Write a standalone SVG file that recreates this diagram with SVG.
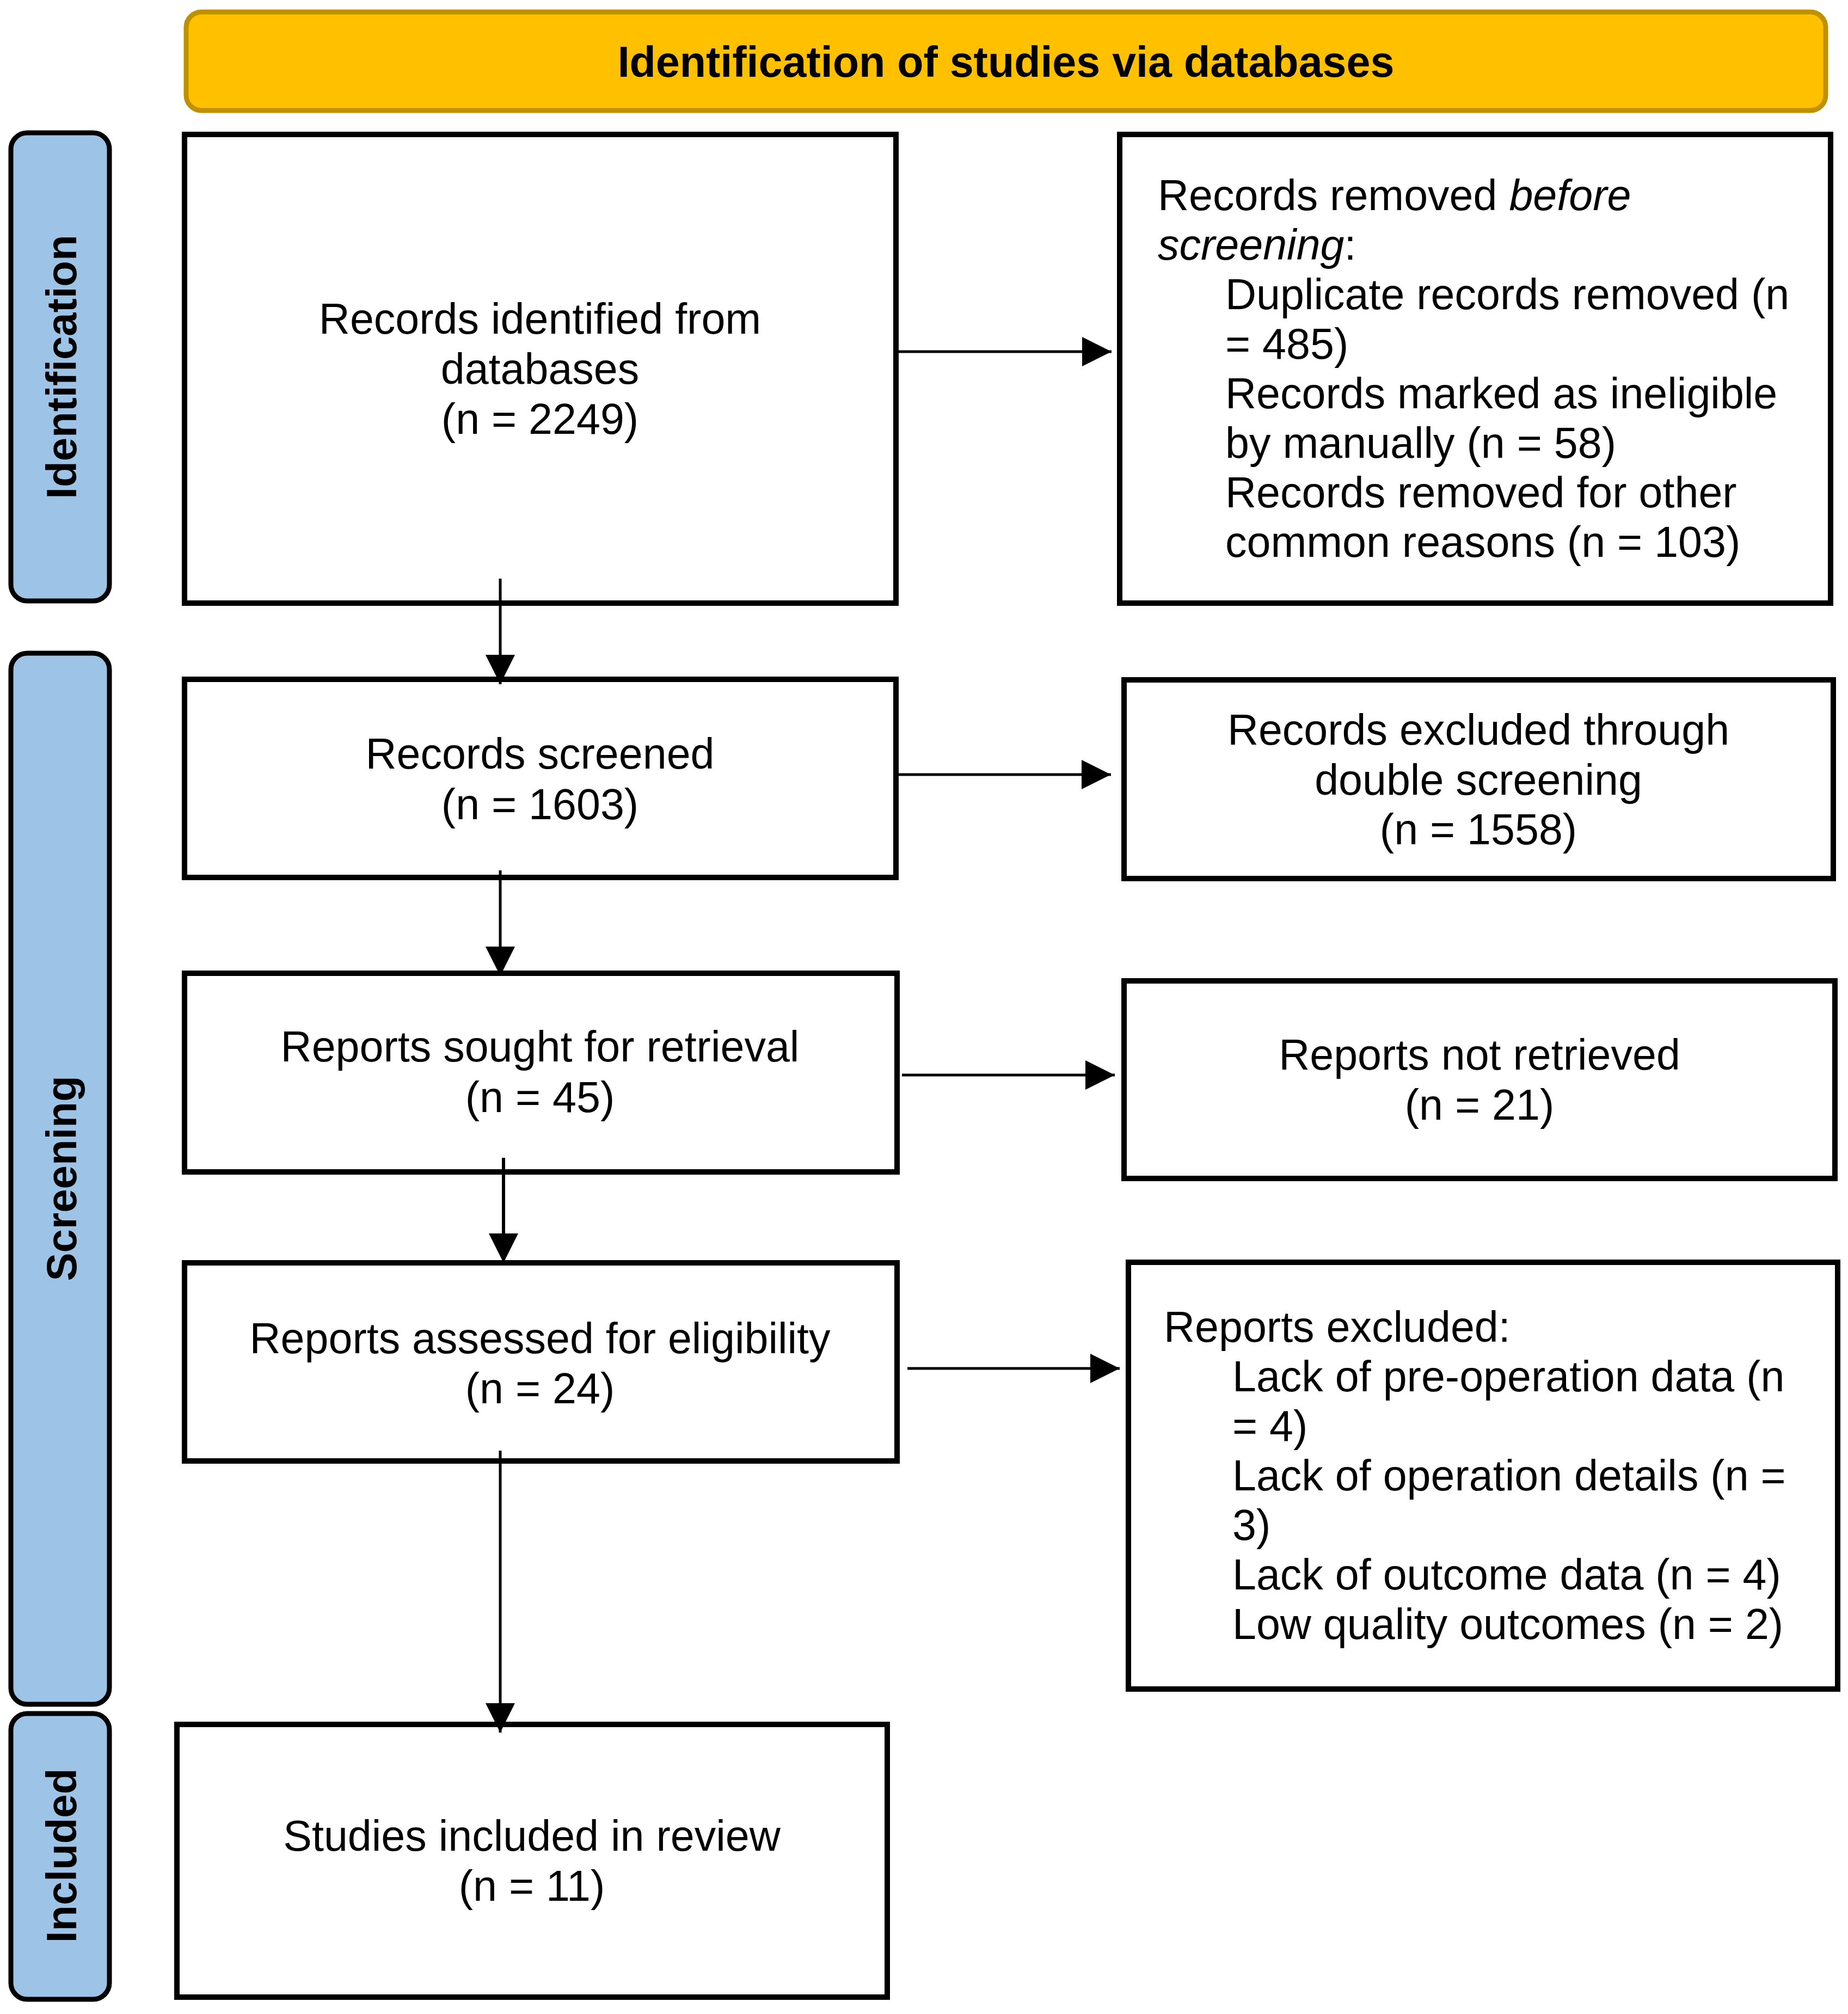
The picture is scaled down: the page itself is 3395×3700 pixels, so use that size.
<svg xmlns="http://www.w3.org/2000/svg" width="3395" height="3700" viewBox="0 0 3395 3700">
<style>
.box{fill:#ffffff;stroke:#000000;stroke-width:10}
.side{fill:#9DC3E6;stroke:#000000;stroke-width:9}
.head{fill:#FFC000;stroke:#BF9000;stroke-width:9}
.t{font-family:"Liberation Sans",Arial,sans-serif;font-size:79px;fill:#000000}
.c{text-anchor:middle}
.b{font-weight:bold}
.side-t{font-family:"Liberation Sans",Arial,sans-serif;font-size:78px;font-weight:bold;fill:#000000;text-anchor:middle}
.con{stroke:#000000;stroke-width:5;fill:none}
</style>
<defs>
<marker id="ah" markerUnits="userSpaceOnUse" markerWidth="54" markerHeight="54" refX="54" refY="27" orient="auto" viewBox="0 0 54 54">
<path d="M0,0 L54,27 L0,54 Z" fill="#000000"/>
</marker>
</defs>
<rect width="3395" height="3700" fill="#ffffff"/>

<g id="header">
<rect class="head" x="342" y="22" width="3012" height="181" rx="28" ry="28"/>
<text class="t c b" x="1848" y="141">Identification of studies via databases</text>
</g>

<g id="phase-identification">
<rect class="side" x="20" y="244" width="181" height="860" rx="30" ry="30"/>
<text class="side-t" transform="translate(140,674) rotate(-90)">Identification</text>
</g>
<g id="phase-screening">
<rect class="side" x="20" y="1200" width="181" height="1931" rx="30" ry="30"/>
<text class="side-t" transform="translate(140,2165) rotate(-90)">Screening</text>
</g>
<g id="phase-included">
<rect class="side" x="20" y="3148" width="181" height="525" rx="30" ry="30"/>
<text class="side-t" transform="translate(140,3409) rotate(-90)">Included</text>
</g>

<g id="records-identified">
<rect class="box" x="339" y="247" width="1307" height="861"/>
<text class="t c" x="992" y="613">Records identified from</text>
<text class="t c" x="992" y="705">databases</text>
<text class="t c" x="992" y="797">(n = 2249)</text>
</g>

<g id="records-removed">
<rect class="box" x="2057" y="247" width="1306" height="861"/>
<text class="t" x="2127" y="386">Records removed <tspan font-style="italic">before</tspan></text>
<text class="t" x="2127" y="477"><tspan font-style="italic">screening</tspan>:</text>
<text class="t" x="2251" y="568">Duplicate records removed (n</text>
<text class="t" x="2251" y="659">= 485)</text>
<text class="t" x="2251" y="750">Records marked as ineligible</text>
<text class="t" x="2251" y="841">by manually (n = 58)</text>
<text class="t" x="2251" y="932">Records removed for other</text>
<text class="t" x="2251" y="1023">common reasons (n = 103)</text>
</g>

<g id="records-screened">
<rect class="box" x="339" y="1248" width="1307" height="364"/>
<text class="t c" x="992" y="1412">Records screened</text>
<text class="t c" x="992" y="1505">(n = 1603)</text>
</g>

<g id="records-excluded">
<rect class="box" x="2065" y="1249" width="1303" height="365"/>
<text class="t c" x="2716" y="1368">Records excluded through</text>
<text class="t c" x="2716" y="1460">double screening</text>
<text class="t c" x="2716" y="1551">(n = 1558)</text>
</g>

<g id="reports-sought">
<rect class="box" x="339" y="1788" width="1309" height="365"/>
<text class="t c" x="992" y="1950">Reports sought for retrieval</text>
<text class="t c" x="992" y="2043">(n = 45)</text>
</g>

<g id="reports-not-retrieved">
<rect class="box" x="2065" y="1802" width="1306" height="363"/>
<text class="t c" x="2718" y="1965">Reports not retrieved</text>
<text class="t c" x="2718" y="2057">(n = 21)</text>
</g>

<g id="reports-assessed">
<rect class="box" x="339" y="2320" width="1309" height="364"/>
<text class="t c" x="992" y="2486">Reports assessed for eligibility</text>
<text class="t c" x="992" y="2578">(n = 24)</text>
</g>

<g id="reports-excluded">
<rect class="box" x="2073" y="2319" width="1303" height="784"/>
<text class="t" x="2138" y="2465">Reports excluded:</text>
<text class="t" x="2264" y="2556">Lack of pre-operation data (n</text>
<text class="t" x="2264" y="2647">= 4)</text>
<text class="t" x="2264" y="2738">Lack of operation details (n =</text>
<text class="t" x="2264" y="2829">3)</text>
<text class="t" x="2264" y="2920">Lack of outcome data (n = 4)</text>
<text class="t" x="2264" y="3011">Low quality outcomes (n = 2)</text>
</g>

<g id="studies-included">
<rect class="box" x="325" y="3168" width="1305" height="501"/>
<text class="t c" x="977" y="3400">Studies included in review</text>
<text class="t c" x="977" y="3492">(n = 11)</text>
</g>

<g id="connectors">
<line class="con" x1="919" y1="1063" x2="919" y2="1257" marker-end="url(#ah)"/>
<line class="con" x1="919" y1="1599" x2="919" y2="1793" marker-end="url(#ah)"/>
<line class="con" x1="925" y1="2127" x2="925" y2="2320" marker-end="url(#ah)" style="stroke-width:6"/>
<line class="con" x1="919" y1="2665" x2="919" y2="3183" marker-end="url(#ah)"/>
<line class="con" x1="1646" y1="646" x2="2042" y2="646" marker-end="url(#ah)"/>
<line class="con" x1="1648" y1="1423" x2="2041" y2="1423" marker-end="url(#ah)"/>
<line class="con" x1="1657" y1="1975" x2="2048" y2="1975" marker-end="url(#ah)"/>
<line class="con" x1="1667" y1="2514" x2="2057" y2="2514" marker-end="url(#ah)"/>
</g>
</svg>
